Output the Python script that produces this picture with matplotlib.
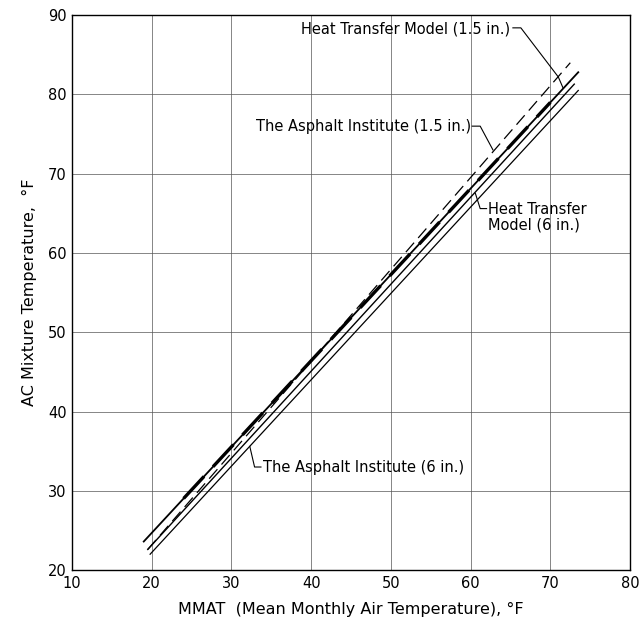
import matplotlib
matplotlib.use('Agg')
import matplotlib.pyplot as plt
import numpy as np

# line end points (x = MMAT, y = AC mix temp)
htm_15_x = [19.0, 73.5]
htm_15_y = [23.6, 82.8]
ai_15_x = [19.5, 72.5]
ai_15_y = [22.6, 84.0]
htm_6_x = [19.5, 73.0]
htm_6_y = [22.6, 81.3]
ai_6_x = [19.8, 73.5]
ai_6_y = [22.0, 80.5]

x_ticks = [10, 20, 30, 40, 50, 60, 70, 80]
y_ticks = [20, 30, 40, 50, 60, 70, 80, 90]

fig = plt.figure(figsize=(6.4, 6.32), dpi=100)
ax = fig.add_axes([0.1125, 0.098, 0.872, 0.878])

ax.set_xlim(10, 80)
ax.set_ylim(20, 90)
ax.set_xticks(x_ticks)
ax.set_yticks(y_ticks)
ax.tick_params(length=0, labelsize=10.5, pad=4)
ax.grid(True, color='#555555', lw=0.5)
for s in ax.spines.values():
    s.set_linewidth(1.0)

ax.plot(htm_15_x, htm_15_y, color='black', lw=1.3)
# heavy overlay along part of the 1.5 in. model line
xs = np.array([24.0, 70.0])
ys = np.interp(xs, htm_15_x, htm_15_y)
ax.plot(xs, ys, color='black', lw=2.4, dashes=(9, 4))
ax.plot(ai_15_x, ai_15_y, color='black', lw=0.9, dashes=(10, 5))
ax.plot(htm_6_x, htm_6_y, color='black', lw=1.0)
ax.plot(ai_6_x, ai_6_y, color='black', lw=0.9)

fs = 10.5
ax.text(65.0, 88.3, 'Heat Transfer Model (1.5 in.)', ha='right', va='center', fontsize=fs)
ax.plot([65.3, 66.3, 71.0, 71.6], [88.4, 88.4, 82.2, 80.8], color='black', lw=0.8)
ax.text(60.0, 75.9, 'The Asphalt Institute (1.5 in.)', ha='right', va='center', fontsize=fs)
ax.plot([60.2, 61.2, 62.8], [76.0, 76.0, 73.0], color='black', lw=0.8)
ax.text(62.2, 64.5, 'Heat Transfer\nModel (6 in.)', ha='left', va='center', fontsize=fs,
        linespacing=1.0)
ax.plot([62.0, 61.2, 60.6], [65.6, 65.6, 67.5], color='black', lw=0.8)
ax.text(33.9, 33.0, 'The Asphalt Institute (6 in.)', ha='left', va='center', fontsize=fs)
ax.plot([33.7, 32.9, 32.3], [33.0, 33.0, 35.6], color='black', lw=0.8)

ax.set_xlabel('MMAT  (Mean Monthly Air Temperature), \u00b0F', fontsize=11.5, labelpad=8)
ax.set_ylabel('AC Mixture Temperature,  \u00b0F', fontsize=11.5, labelpad=8)

fig.savefig('out.png', dpi=100)
